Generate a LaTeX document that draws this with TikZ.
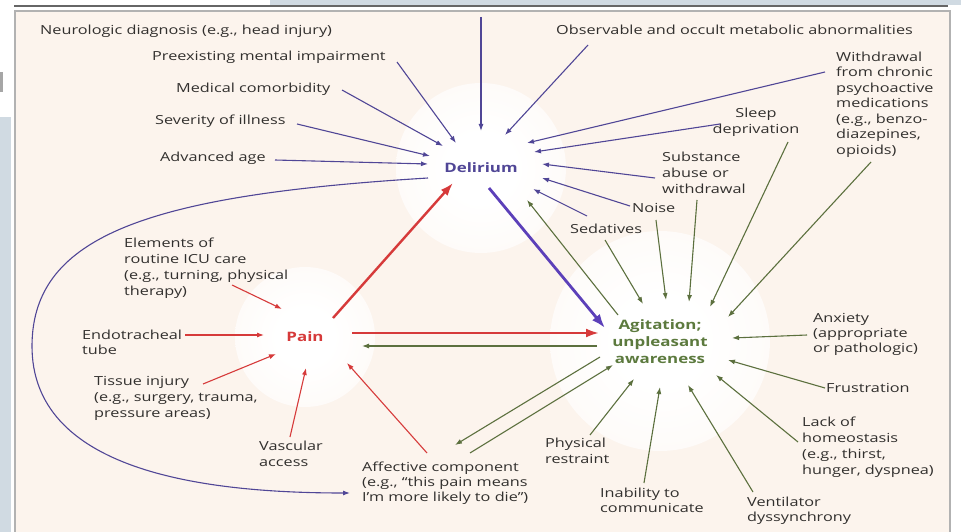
\documentclass[tikz,border=0pt]{standalone}
\usepackage{fontspec}
\setmainfont{Open Sans}[FakeStretch=1.3]
\usetikzlibrary{arrows.meta}
\definecolor{bgc}{RGB}{252,244,237}
\definecolor{tcol}{RGB}{50,48,46}
\definecolor{pcol}{RGB}{80,70,150}
\definecolor{pthick}{RGB}{92,64,185}
\definecolor{rcol}{RGB}{214,58,58}
\definecolor{gcol}{RGB}{92,112,62}
\definecolor{gtext}{RGB}{92,122,62}
\definecolor{stripc}{RGB}{208,218,226}
\colorlet{glowa}{white!65!bgc}
\colorlet{glowb}{white!25!bgc}
\pgfdeclareradialshading{glow}{\pgfpoint{0bp}{0bp}}{color(0bp)=(white); color(10bp)=(white); color(25bp)=(glowa); color(38bp)=(glowb); color(50bp)=(bgc)}
\tikzset{
  lbl/.style={inner sep=0pt, text=tcol, align=left, anchor=base west, font=\fontsize{12.5}{16}\selectfont},
  hub/.style={inner sep=0pt, font=\fontsize{13}{17}\selectfont\bfseries, align=center},
  parr/.style={draw=pcol, line width=1.1pt, -{Latex[length=7pt,width=5pt]}},
  rarr/.style={draw=rcol, line width=1.1pt, -{Latex[length=7pt,width=5pt]}},
  garr/.style={draw=gcol, line width=1.1pt, -{Latex[length=7pt,width=5pt]}},
  rbig/.style={draw=rcol, line width=2.4pt, -{Latex[length=13pt,width=9pt]}},
  pbig/.style={draw=pthick, line width=2.8pt, -{Latex[length=14pt,width=10pt]}}
}
\begin{document}
\begin{tikzpicture}[x=1pt,y=-1pt]
\useasboundingbox (0,0) rectangle (961,532);
\fill[white] (0,0) rectangle (961,532);
\fill[stripc] (270,0) rectangle (961,5);
\fill[stripc] (0,117) rectangle (11,532);
\fill[gray!70] (0,72) rectangle (3,92);
\draw[line width=1.6pt, draw=gray!80!black] (14,6) -- (948,6);
\fill[bgc] (15,11) rectangle (950,532);
\draw[line width=1.5pt, draw=gray!60] (15,532) -- (15,11) -- (950,11) -- (950,532);
% glows
\shade[shading=glow] (481,168) circle (85);
\shade[shading=glow] (305,337) circle (70);
\shade[shading=glow] (660,341) circle (110);

% hubs
\node[hub, text=pcol] (del) at (481,168) {Delirium};
\node[hub, text=rcol] (pain) at (305,337) {Pain};
\node[hub, text=gtext] (agi) at (660,342) {Agitation;\\unpleasant\\awareness};

% labels (base = baseline of last line)
\node[lbl] (neuro) at (40,34.5) {Neurologic diagnosis (e.g., head injury)};
\node[lbl] (preex) at (152,60.5) {Preexisting mental impairment};
\node[lbl] (medc) at (176,92.5) {Medical comorbidity};
\node[lbl] (sev) at (155,124.5) {Severity of illness};
\node[lbl] (age) at (160,161.5) {Advanced age};
\node[lbl] (obs) at (556,34.5) {Observable and occult metabolic abnormalities};
\node[lbl, font=\fontsize{12.5}{15.5}\selectfont] (wd) at (836,154.5) {Withdrawal\\from chronic\\psychoactive\\medications\\(e.g., benzo-\\diazepines,\\opioids)};
\node[lbl, align=center, anchor=base] (sleep) at (756,133.5) {Sleep\\deprivation};
\node[lbl] (subs) at (662,193.5) {Substance\\abuse or\\withdrawal};
\node[lbl] (noise) at (632,212.5) {Noise};
\node[lbl] (sed) at (570,233.5) {Sedatives};
\node[lbl] (icu) at (124,295.5) {Elements of\\routine ICU care\\(e.g., turning, physical\\therapy)};
\node[lbl, font=\fontsize{12.5}{15}\selectfont] (endo) at (82,354.5) {Endotracheal\\tube};
\node[lbl] (tissue) at (94,417.5) {Tissue injury\\(e.g., surgery, trauma,\\pressure areas)};
\node[lbl] (vasc) at (259,466.5) {Vascular\\access};
\node[lbl, font=\fontsize{12.5}{15}\selectfont] (aff) at (362,501.5) {Affective component\\(e.g., “this pain means\\I’m more likely to die”)};
\node[lbl] (phys) at (545,463.5) {Physical\\restraint};
\node[lbl, font=\fontsize{12.5}{15}\selectfont] (inab) at (600,512.5) {Inability to\\communicate};
\node[lbl, font=\fontsize{12.5}{15}\selectfont] (vent) at (747,521.5) {Ventilator\\dyssynchrony};
\node[lbl] (lack) at (802,474.5) {Lack of\\homeostasis\\(e.g., thirst,\\hunger, dyspnea)};
\node[lbl] (frus) at (826,392.5) {Frustration};
\node[lbl, font=\fontsize{12.5}{15}\selectfont] (anx) at (813,352.5) {Anxiety\\(appropriate\\or pathologic)};

% coordinates: purple thin
\coordinate (p1s) at (481,17);  \coordinate (p1e) at (481,131);
\coordinate (p2s) at (397,62);  \coordinate (p2e) at (456,143);
\coordinate (p3s) at (342,90);  \coordinate (p3e) at (443,146);
\coordinate (p4s) at (297,124); \coordinate (p4e) at (430,156);
\coordinate (p5s) at (275,160); \coordinate (p5e) at (428,164);
\coordinate (p6s) at (588,45);  \coordinate (p6e) at (505,135);
\coordinate (p7s) at (825,72);  \coordinate (p7e) at (527,143);
\coordinate (p8s) at (720,124); \coordinate (p8e) at (534,152);
\coordinate (p9s) at (655,178); \coordinate (p9e) at (542,164);
\coordinate (p10s) at (630,206); \coordinate (p10e) at (542,178);
\coordinate (p11s) at (587,216); \coordinate (p11e) at (533,189);
\foreach \i in {1,...,11} {\draw[parr] (p\i s) -- (p\i e);}

% loop
\coordinate (ls) at (428,178); \coordinate (le) at (350,493);
\draw[parr] (ls) .. controls (150,195) and (33,235) .. (32,345) .. controls (31,470) and (200,493) .. (le);

% red
\coordinate (r1s) at (333,318); \coordinate (r1e) at (453,183);
\coordinate (r2s) at (352,333); \coordinate (r2e) at (599,333);
\coordinate (r3s) at (232,285); \coordinate (r3e) at (282,309);
\coordinate (r4s) at (185,335); \coordinate (r4e) at (264,335);
\coordinate (r5s) at (203,384); \coordinate (r5e) at (276,354);
\coordinate (r6s) at (290,437); \coordinate (r6e) at (306,368);
\coordinate (r7s) at (427,453); \coordinate (r7e) at (347,363);
\draw[rbig] (r1s) -- (r1e);
\draw[rbig] (r2s) -- (r2e);
\foreach \i in {3,...,7} {\draw[rarr] (r\i s) -- (r\i e);}

% thick purple
\coordinate (pbs) at (489,188); \coordinate (pbe) at (605,328);
\draw[pbig] (pbs) -- (pbe);

% green
\coordinate (g1s) at (597,346); \coordinate (g1e) at (362,346);
\coordinate (g2s) at (618,315); \coordinate (g2e) at (527,200);
\coordinate (g3s) at (605,240); \coordinate (g3e) at (643,304);
\coordinate (g4s) at (656,220); \coordinate (g4e) at (666,300);
\coordinate (g5s) at (697,200); \coordinate (g5e) at (689,302);
\coordinate (g6s) at (788,142); \coordinate (g6e) at (710,307);
\coordinate (g7s) at (871,162); \coordinate (g7e) at (728,317);
\coordinate (g8s) at (807,335); \coordinate (g8e) at (732,338);
\coordinate (g9s) at (825,388); \coordinate (g9e) at (728,360);
\coordinate (g10s) at (798,442); \coordinate (g10e) at (716,375);
\coordinate (g11s) at (753,492); \coordinate (g11e) at (688,385);
\coordinate (g12s) at (644,483); \coordinate (g12e) at (660,387);
\coordinate (g13s) at (590,435); \coordinate (g13e) at (634,379);
\coordinate (g14s) at (600,357); \coordinate (g14e) at (455,445);
\coordinate (g15s) at (470,453); \coordinate (g15e) at (613,365);
\foreach \i in {1,...,15} {\draw[garr] (g\i s) -- (g\i e);}
\end{tikzpicture}
\end{document}
